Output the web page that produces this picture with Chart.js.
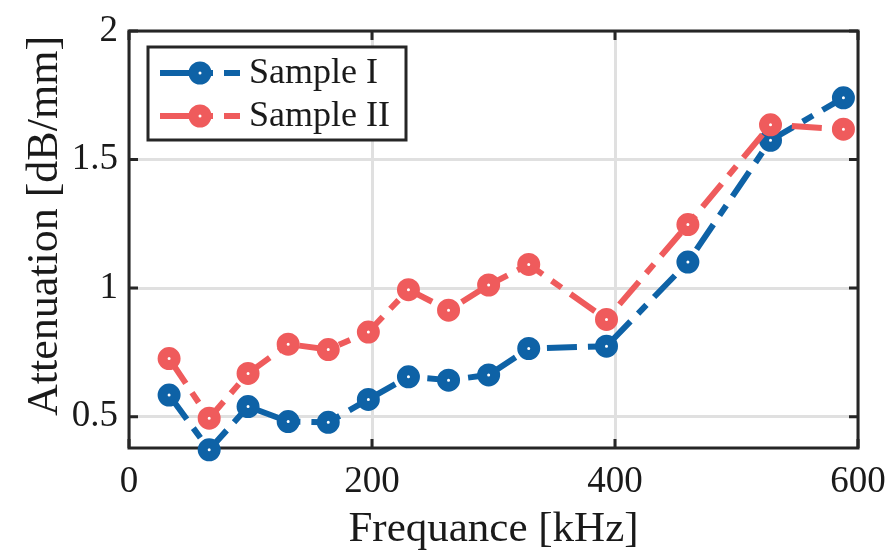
<!DOCTYPE html>
<html><head><meta charset="utf-8">
<script src="https://cdn.jsdelivr.net/npm/chart.js@4/dist/chart.umd.min.js"></script>
<style>html,body{margin:0;padding:0;background:#fff}#wrap{width:892px;height:556px;position:relative}</style>
</head><body><div id="wrap"><canvas id="c"></canvas></div>
<script>
// ---- data ----
const frequencies = [33, 66, 98, 131, 164, 197, 230, 263, 296, 329, 393, 460, 528, 588];
const sampleI  = [0.584, 0.371, 0.539, 0.481, 0.478, 0.567, 0.655, 0.642, 0.662, 0.765, 0.774, 1.101, 1.575, 1.740];
const sampleII = [0.726, 0.494, 0.668, 0.782, 0.761, 0.829, 0.994, 0.914, 1.012, 1.092, 0.878, 1.247, 1.635, 1.618];
const seriesNames = ['Sample I', 'Sample II'];
const xTicks = [0, 200, 400, 600];
const yTicks = [0.5, 1, 1.5, 2];
const yTickLabels = ['0.5', '1', '1.5', '2'];
const xTickLabels = ['0', '200', '400', '600'];
const xTitle = 'Frequance [kHz]';
const yTitle = 'Attenuation [dB/mm]';

// ---- styles ----
const BLUE = '#0E62A6', RED = '#EF5B5C', INK = '#262626', TXT = '#1a1a1a';
const FONT = '"Liberation Serif", "Times New Roman", serif';
const DASH = [30, 11, 12, 11];
const PT_R = 6.5, PT_BW = 10;

function pts(ys) { return frequencies.map((f, i) => ({ x: f, y: ys[i] })); }
function ds(label, ys, color, order) {
  return {
    label, data: pts(ys), borderColor: color, backgroundColor: '#fff',
    borderWidth: 6, borderDash: DASH, borderCapStyle: 'butt', borderJoinStyle: 'round',
    pointRadius: PT_R, pointHoverRadius: PT_R, pointBorderWidth: PT_BW, pointHoverBorderWidth: PT_BW,
    pointBackgroundColor: '#fff', pointBorderColor: color,
    tension: 0, clip: false, order
  };
}

function drawMarker(ctx, x, y, color) {
  ctx.save();
  ctx.setLineDash([]);
  ctx.beginPath();
  ctx.arc(x, y, PT_R, 0, Math.PI * 2);
  ctx.fillStyle = '#fff'; ctx.fill();
  ctx.lineWidth = PT_BW; ctx.strokeStyle = color; ctx.stroke();
  ctx.restore();
}

const framePlugin = {
  id: 'frame',
  beforeDatasetsDraw(chart) {
    const { ctx, chartArea: a, scales: { x, y } } = chart;
    ctx.save();
    ctx.setLineDash([]);
    ctx.strokeStyle = INK; ctx.lineWidth = 3;
    const L = 9;
    ctx.beginPath();
    xTicks.forEach(v => { const px = x.getPixelForValue(v);
      ctx.moveTo(px, a.bottom); ctx.lineTo(px, a.bottom - L);
      ctx.moveTo(px, a.top); ctx.lineTo(px, a.top + L); });
    yTicks.forEach(v => { const py = y.getPixelForValue(v);
      ctx.moveTo(a.left, py); ctx.lineTo(a.left + L, py);
      ctx.moveTo(a.right, py); ctx.lineTo(a.right - L, py); });
    ctx.stroke();
    ctx.lineJoin = 'miter';
    ctx.strokeRect(a.left, a.top, a.right - a.left, a.bottom - a.top);
    // axis titles
    ctx.fillStyle = TXT;
    ctx.font = '43px ' + FONT;
    ctx.textAlign = 'center'; ctx.textBaseline = 'alphabetic';
    ctx.fillText(xTitle, (a.left + a.right) / 2, 541);
    ctx.translate(57, 226);
    ctx.rotate(-Math.PI / 2);
    ctx.font = '44px ' + FONT;
    ctx.fillText(yTitle, 0, 0);
    ctx.restore();
  },
  afterDatasetsDraw(chart) {
    const { ctx, chartArea: a } = chart;
    const lx = a.left + 19, ly = a.top + 16, lw = 258, lh = 93;
    ctx.save();
    ctx.setLineDash([]);
    ctx.fillStyle = '#fff';
    ctx.fillRect(lx, ly, lw, lh);
    ctx.strokeStyle = INK; ctx.lineWidth = 3;
    ctx.strokeRect(lx, ly, lw, lh);
    chart.data.datasets.forEach((d, i) => {
      const ry = ly + 26 + i * 43;
      ctx.save();
      ctx.strokeStyle = d.borderColor; ctx.lineWidth = 6; ctx.lineCap = 'butt';
      ctx.setLineDash(DASH);
      ctx.beginPath(); ctx.moveTo(lx + 12, ry); ctx.lineTo(lx + 92, ry); ctx.stroke();
      ctx.restore();
      drawMarker(ctx, lx + 52, ry, d.borderColor);
      ctx.fillStyle = TXT;
      ctx.font = '36px ' + FONT;
      ctx.textAlign = 'left'; ctx.textBaseline = 'middle';
      ctx.fillText(d.label, lx + 101, ry + 1);
    });
    ctx.restore();
  }
};

new Chart(document.getElementById('c'), {
  type: 'line',
  data: { datasets: [ds(seriesNames[0], sampleI, BLUE, 2), ds(seriesNames[1], sampleII, RED, 1)] },
  options: {
    responsive: true, maintainAspectRatio: false, animation: false,
    layout: { padding: { top: 31, right: 34, bottom: 0, left: 0 } },
    plugins: { legend: { display: false }, tooltip: { enabled: false } },
    scales: {
      x: {
        type: 'linear', min: 0, max: 600,
        afterBuildTicks: s => { s.ticks = xTicks.map(v => ({ value: v })); },
        afterFit: s => { s.height = 108; s.paddingLeft = 0; s.paddingRight = 0; },
        grid: { color: '#e0e0e0', lineWidth: 3, drawTicks: false },
        border: { display: false },
        ticks: { padding: 12, color: TXT, font: { family: FONT, size: 37 }, maxRotation: 0, autoSkip: false,
          callback: (v) => xTickLabels[xTicks.indexOf(v)] ?? '' }
      },
      y: {
        type: 'linear', min: 0.378, max: 2,
        afterBuildTicks: s => { s.ticks = yTicks.map(v => ({ value: v })); },
        afterFit: s => { s.width = 129; s.paddingTop = 0; s.paddingBottom = 0; },
        grid: { color: '#e0e0e0', lineWidth: 3, drawTicks: false },
        border: { display: false },
        ticks: { padding: 11, color: TXT, font: { family: FONT, size: 37 }, autoSkip: false,
          callback: (v) => yTickLabels[yTicks.indexOf(v)] ?? '' }
      }
    }
  },
  plugins: [framePlugin]
});
</script>
</body></html>
